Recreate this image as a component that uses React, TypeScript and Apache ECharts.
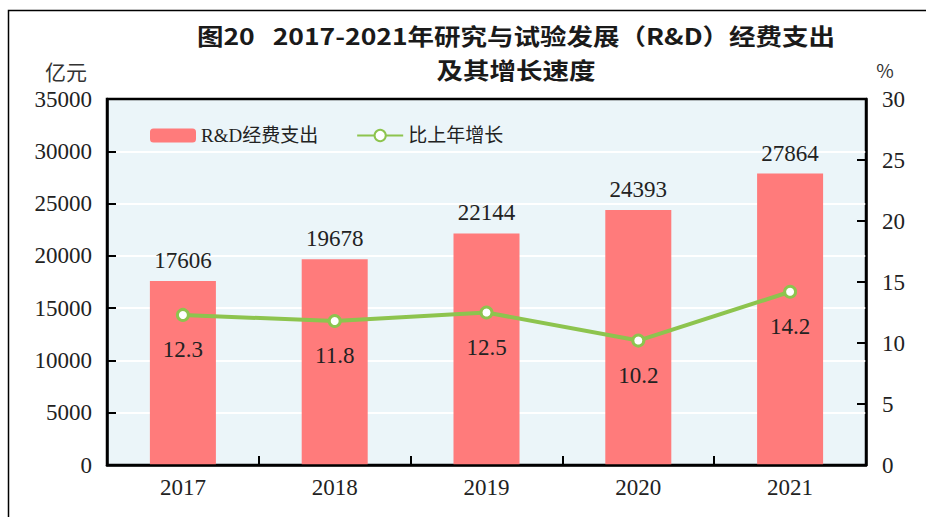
import React, { useEffect, useRef } from "react";
import * as echarts from "echarts";

const years = ["2017", "2018", "2019", "2020", "2021"];
const rdSpending = [17606, 19678, 22144, 24393, 27864];
const growthRate = [12.3, 11.8, 12.5, 10.2, 14.2];
const titleLine1 = "图20   2017-2021年研究与试验发展（R&D）经费支出";
const titleLine2 = "及其增长速度";
const leftUnit = "亿元";
const rightUnit = "%";

const serif = "'Liberation Serif', 'Noto Sans CJK SC', serif";
const cjk = "'Noto Sans CJK SC', sans-serif";

export default function App() {
  const ref = useRef<HTMLDivElement>(null);
  useEffect(() => {
    document.body.style.margin = "0";
    const chart = echarts.init(ref.current!, null, { renderer: "svg" });
    const titleStyle = {
      font: `bold 26px ${cjk}`,
      fill: "#1a1a1a",
      textAlign: "center",
      textVerticalAlign: "middle",
    };
    chart.setOption({
      animation: false,
      backgroundColor: "#ffffff",
      graphic: [
        {
          type: "polyline",
          shape: { points: [[8.5, 517], [8.5, 10.5], [926, 10.5]] },
          style: { stroke: "#000", lineWidth: 1.5, fill: null },
        },
        {
          type: "text",
          x: 516,
          y: 35,
          scaleX: 1.02,
          scaleY: 0.87,
          style: { ...titleStyle, text: titleLine1 },
        },
        {
          type: "text",
          x: 516,
          y: 68.5,
          scaleX: 1.02,
          scaleY: 0.87,
          style: { ...titleStyle, text: titleLine2 },
        },
        {
          type: "text",
          x: 66,
          y: 71,
          style: { text: leftUnit, font: `21px ${cjk}`, fill: "#333", textAlign: "center", textVerticalAlign: "middle" },
        },
        {
          type: "text",
          x: 885,
          y: 69,
          style: { text: rightUnit, font: `19px ${cjk}`, fill: "#333", textAlign: "center", textVerticalAlign: "middle" },
        },
      ],
      legend: {
        left: 145,
        top: 121,
        itemWidth: 46,
        itemHeight: 14,
        itemGap: 38,
        textStyle: { fontFamily: serif, fontSize: 19, color: "#222" },
        data: ["R&D经费支出", "比上年增长"],
      },
      grid: {
        left: 107,
        right: 60,
        top: 99,
        bottom: 52,
        show: true,
        backgroundColor: "#ebf5f9",
        borderColor: "#000",
        borderWidth: 2.5,
      },
      xAxis: {
        type: "category",
        data: years,
        z: 10,
        axisLine: { show: true, lineStyle: { color: "#000", width: 2.5 } },
        axisTick: { show: true, inside: true, length: 9, lineStyle: { color: "#000", width: 2 } },
        axisLabel: { fontFamily: serif, fontSize: 23, color: "#222", margin: 11 },
      },
      yAxis: [
        {
          type: "value",
          min: 0,
          max: 35000,
          interval: 5000,
          axisLine: { show: true, lineStyle: { color: "#000", width: 2.5 } },
          axisTick: { show: true, inside: true, length: 9, lineStyle: { color: "#000", width: 2 } },
          axisLabel: { fontFamily: serif, fontSize: 23, color: "#222", margin: 15, formatter: (v: number) => String(v) },
          splitLine: { show: true, showMaxLine: false, showMinLine: false, lineStyle: { color: "#ffffff", width: 2 } },
        },
        {
          type: "value",
          min: 0,
          max: 30,
          interval: 5,
          z: 10,
          position: "right",
          axisLine: { show: true, lineStyle: { color: "#000", width: 2.5 } },
          axisTick: { show: true, inside: true, length: 9, lineStyle: { color: "#000", width: 2 } },
          axisLabel: { fontFamily: serif, fontSize: 23, color: "#222", margin: 16 },
          splitLine: { show: false },
        },
      ],
      series: [
        {
          name: "R&D经费支出",
          type: "bar",
          data: rdSpending,
          barWidth: 66,
          itemStyle: { color: "#ff7b7b" },
          label: { show: true, position: "top", distance: 9, fontFamily: serif, fontSize: 23, color: "#222" },
        },
        {
          name: "比上年增长",
          type: "line",
          yAxisIndex: 1,
          data: growthRate,
          symbol: "circle",
          symbolSize: 11,
          lineStyle: { color: "#8dc44e", width: 4 },
          itemStyle: { color: "#ffffff", borderColor: "#8dc44e", borderWidth: 3 },
          label: {
            show: true,
            position: "bottom",
            distance: 16,
            fontFamily: serif,
            fontSize: 23,
            color: "#222",
            formatter: (p: any) => p.value.toFixed(1),
          },
          z: 5,
        },
      ],
    });
    return () => chart.dispose();
  }, []);
  return <div ref={ref} style={{ position: "absolute", left: 0, top: 0, width: 926, height: 517 }} />;
}
